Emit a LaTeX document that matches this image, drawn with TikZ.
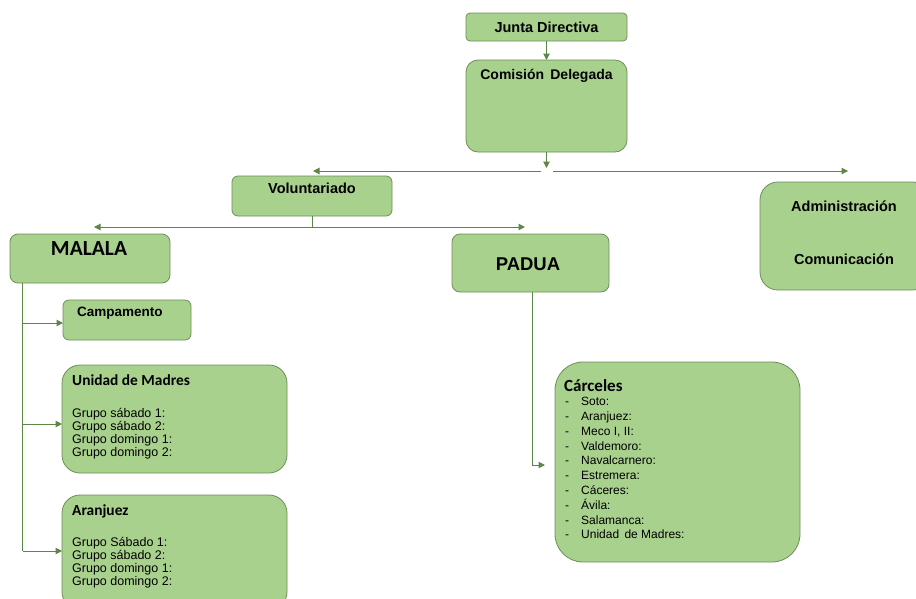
\documentclass[tikz,border=0pt]{standalone}
\usepackage{fontspec}
\setmainfont{Liberation Sans}
\newfontfamily\calib{Carlito}
\usetikzlibrary{arrows.meta}
\definecolor{boxfill}{HTML}{A9D18E}
\definecolor{boxline}{RGB}{108,142,88}
\definecolor{conn}{RGB}{92,136,68}
\tikzset{
 box/.style={draw=boxline, fill=boxfill, line width=0.8pt, anchor=north west, inner sep=0pt, outer sep=0pt},
 conline/.style={draw=conn, line width=1pt},
 arr/.style={conline, -{Triangle[length=6.5pt,width=6.5pt]}},
 txt/.style={inner sep=0pt, text=black, anchor=base},
 btxt/.style={txt, font=\bfseries\fontsize{14.5}{16}\selectfont},
 ltxt/.style={inner sep=0pt, text=black, anchor=base west, font=\fontsize{12.5}{14}\selectfont},
}
\begin{document}
\begin{tikzpicture}[x=1pt,y=-1pt]
\useasboundingbox (0,0) rectangle (916,598);
% boxes
\node[box, rounded corners=4pt, minimum width=161pt, minimum height=28pt] (jd) at (466,13) {};
\node[box, rounded corners=12pt, minimum width=161pt, minimum height=92pt] (cd) at (466,60) {};
\node[box, rounded corners=6pt, minimum width=160pt, minimum height=40pt] (vol) at (232,176) {};
\node[box, rounded corners=18pt, minimum width=170pt, minimum height=108pt] (adm) at (760,182) {};
\node[box, rounded corners=8pt, minimum width=160pt, minimum height=49pt] (mal) at (10,234) {};
\node[box, rounded corners=8pt, minimum width=157pt, minimum height=58pt] (pad) at (452,234) {};
\node[box, rounded corners=6pt, minimum width=128pt, minimum height=40pt] (camp) at (63,300) {};
\node[box, rounded corners=18pt, minimum width=225pt, minimum height=108pt] (um) at (62,365) {};
\node[box, rounded corners=18pt, minimum width=225pt, minimum height=115pt] (ara) at (62,495) {};
\node[box, rounded corners=28pt, minimum width=245pt, minimum height=200pt] (carc) at (555,362) {};
% texts
\node[btxt] (tjd) at (546.5,32.3) {Junta Directiva};
\node[btxt, font=\bfseries\fontsize{14}{16}\selectfont] (tcd) at (546.5,79.3) {Comisión\ \,Delegada};
\node[btxt] (tvol) at (312,193) {Voluntariado};
\node[btxt] (tadm) at (844,211) {Administración};
\node[btxt] (tcom) at (844,264) {Comunicación};
\node[txt, font=\calib\bfseries\fontsize{21.5}{24}\selectfont] (tmal) at (89,255) {MALALA};
\node[txt, font=\bfseries\fontsize{18.5}{20}\selectfont] (tpad) at (528,270) {PADUA};
\node[txt, anchor=base west, font=\bfseries\fontsize{13.5}{15}\selectfont] (tcamp) at (77,316) {Campamento};
\node[txt, anchor=base west, font=\calib\bfseries\fontsize{15.4}{17}\selectfont] (tum) at (72,385) {Unidad de Madres};
\node[txt, anchor=base west, font=\calib\bfseries\fontsize{15.4}{17}\selectfont] (tara) at (72,515) {Aranjuez};
\node[txt, anchor=base west, font=\calib\bfseries\fontsize{17}{19}\selectfont] (tcarc) at (564,391.7) {Cárceles};
\foreach \t [count=\i from 0] in {Grupo sábado 1:, Grupo sábado 2:, Grupo domingo 1:, Grupo domingo 2:}
  \node[ltxt] (um\i) at (72,417+13*\i) {\t};
\foreach \t [count=\i from 0] in {Grupo Sábado 1:, Grupo sábado 2:, Grupo domingo 1:, Grupo domingo 2:}
  \node[ltxt] (ar\i) at (72,546+13*\i) {\t};
\foreach \t [count=\i from 0] in {Soto:, Aranjuez:, {Meco I, II:}, Valdemoro:, Navalcarnero:, Estremera:, Cáceres:, Ávila:, Salamanca:, {Unidad\ \,de Madres:}} {
  \node[ltxt, font=\fontsize{12}{14}\selectfont] (cd\i) at (565,405.7+14.8*\i) {-};
  \node[ltxt, font=\fontsize{12}{14}\selectfont] (cl\i) at (581,405.7+14.8*\i) {\t};
}
% connectors
\draw[arr] (jd.south) -- (cd.north);
\coordinate (hubtop) at (546.5,168);
\coordinate (hl) at (541,171);
\coordinate (hr) at (553,171);
\coordinate (tovol) at (313,171);
\coordinate (toadm) at (848,171);
\draw[arr] (cd.south) -- (hubtop);
\draw[arr] (hl) -- (tovol);
\draw[arr] (hr) -- (toadm);
\coordinate (vj) at (312,227);
\coordinate (tomal) at (94,227);
\coordinate (topad) at (525,227);
\draw[conline] (vol.south) -- (vj);
\draw[arr] (vj) -- (tomal);
\draw[arr] (vj) -- (topad);
\coordinate (mtop) at (22.5,283);
\coordinate (mb1) at (22.5,323);
\coordinate (mb2) at (22.5,424);
\coordinate (mb3) at (22.5,551);
\draw[conline] (mtop) -- (mb3);
\draw[arr] (mb1) -- (mb1 -| camp.west);
\draw[arr] (mb2) -- (mb2 -| um.west);
\draw[arr] (mb3) -- (mb3 -| ara.west);
\coordinate (ptop) at (532,292);
\coordinate (pbend) at (532,465);
\coordinate (pend) at (545,465);
\draw[arr] (ptop) -- (pbend) -- (pend);
\end{tikzpicture}
\end{document}
